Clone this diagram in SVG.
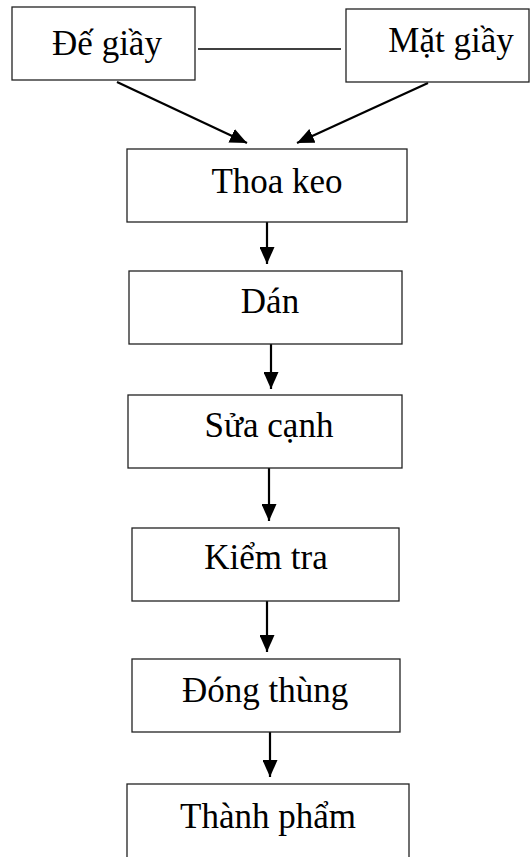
<svg xmlns="http://www.w3.org/2000/svg" width="530" height="857" viewBox="0 0 530 857">
  <style>
    .box { fill: #ffffff; stroke: #222222; stroke-width: 1.3; }
    .label { font-family: "Liberation Serif", "Times New Roman", serif; font-size: 35px; fill: #000000; text-anchor: middle; }
    .edge { stroke: #000000; stroke-width: 2.2; fill: none; }
    .plain { stroke: #000000; stroke-width: 1.3; fill: none; }
  </style>
  <defs>
    <!-- solid triangular head, 17 long by 15 wide -->
    <marker id="arrow" viewBox="0 0 17 15" refX="17" refY="7.5" markerUnits="userSpaceOnUse" markerWidth="17" markerHeight="15" orient="auto">
      <path d="M0,0 L17,7.5 L0,15 z" fill="#000000"/>
    </marker>
  </defs>
  <rect width="530" height="857" fill="#ffffff"/>

  <g id="connectors">
    <line class="plain" x1="198" y1="49" x2="341" y2="49"/>
    <line class="edge" x1="117" y1="82" x2="247" y2="143" marker-end="url(#arrow)"/>
    <line class="edge" x1="428" y1="83" x2="297" y2="143" marker-end="url(#arrow)"/>
    <line class="edge" x1="267" y1="222" x2="267" y2="264" marker-end="url(#arrow)"/>
    <line class="edge" x1="271" y1="344" x2="271" y2="389" marker-end="url(#arrow)"/>
    <line class="edge" x1="269" y1="468" x2="269" y2="521" marker-end="url(#arrow)"/>
    <line class="edge" x1="267" y1="601" x2="267" y2="652" marker-end="url(#arrow)"/>
    <line class="edge" x1="270" y1="732" x2="270" y2="777" marker-end="url(#arrow)"/>
  </g>

  <g id="de-giay">
    <rect class="box" x="12" y="7" width="183" height="73"/>
    <text class="label" x="107" y="55">Đế giầy</text>
  </g>
  <g id="mat-giay">
    <rect class="box" x="346" y="9" width="183" height="73"/>
    <text class="label" x="451" y="52">Mặt giầy</text>
  </g>
  <g id="thoa-keo">
    <rect class="box" x="127" y="149" width="280" height="73"/>
    <text class="label" x="277" y="193">Thoa keo</text>
  </g>
  <g id="dan">
    <rect class="box" x="129" y="271" width="273" height="73"/>
    <text class="label" x="270" y="313">Dán</text>
  </g>
  <g id="sua-canh">
    <rect class="box" x="128" y="395" width="274" height="73"/>
    <text class="label" x="269" y="437">Sửa cạnh</text>
  </g>
  <g id="kiem-tra">
    <rect class="box" x="132" y="528" width="267" height="73"/>
    <text class="label" x="266" y="569">Kiểm tra</text>
  </g>
  <g id="dong-thung">
    <rect class="box" x="132" y="659" width="268" height="73"/>
    <text class="label" x="265" y="702">Đóng thùng</text>
  </g>
  <g id="thanh-pham">
    <rect class="box" x="127" y="784" width="282" height="90"/>
    <text class="label" x="268" y="828">Thành phẩm</text>
  </g>
</svg>
